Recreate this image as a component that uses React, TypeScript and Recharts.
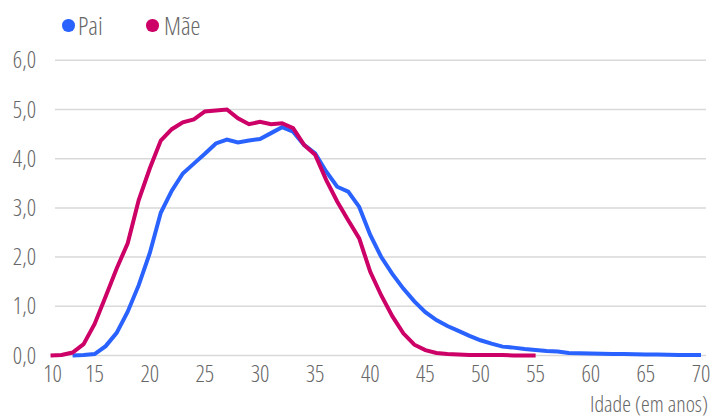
import { LineChart, Line, XAxis, YAxis, CartesianGrid } from 'recharts';

// idade (anos) e % de nascimentos
const maeAges = [
  11, 12, 13, 14, 15, 16, 17, 18, 19, 20, 21, 22, 23, 24, 25, 26, 27, 28, 29, 30, 31, 32, 33,
  34, 35, 36, 37, 38, 39, 40, 41, 42, 43, 44, 45, 46, 47, 48, 49, 50, 51, 52, 53, 54, 55,
];
const maeValues = [
  0.0, 0.01, 0.06, 0.23, 0.64, 1.2, 1.77, 2.28, 3.16, 3.8, 4.37, 4.6, 4.74, 4.8, 4.96, 4.98,
  5.0, 4.82, 4.7, 4.75, 4.7, 4.72, 4.62, 4.28, 4.08, 3.57, 3.13, 2.75, 2.38, 1.7, 1.22, 0.8,
  0.45, 0.22, 0.11, 0.05, 0.03, 0.02, 0.01, 0.01, 0.01, 0.01, 0.0, 0.0, 0.0,
];

const paiAges = [
  13, 14, 15, 16, 17, 18, 19, 20, 21, 22, 23, 24, 25, 26, 27, 28, 29, 30, 31, 32, 33, 34, 35,
  36, 37, 38, 39, 40, 41, 42, 43, 44, 45, 46, 47, 48, 49, 50, 51, 52, 53, 54, 55, 56, 57, 58,
  59, 60, 61, 62, 63, 64, 65, 66, 67, 68, 69, 70,
];
const paiValues = [
  0.0, 0.01, 0.03, 0.19, 0.46, 0.89, 1.43, 2.08, 2.9, 3.35, 3.7, 3.9, 4.1, 4.31, 4.39, 4.33,
  4.37, 4.4, 4.52, 4.64, 4.55, 4.28, 4.11, 3.74, 3.43, 3.33, 3.02, 2.45, 2.0, 1.66, 1.36, 1.1,
  0.88, 0.72, 0.6, 0.5, 0.4, 0.31, 0.24, 0.18, 0.16, 0.13, 0.11, 0.09, 0.08, 0.05, 0.045, 0.04,
  0.035, 0.03, 0.03, 0.025, 0.02, 0.02, 0.015, 0.01, 0.01, 0.01,
];

const xTicks = [10, 15, 20, 25, 30, 35, 40, 45, 50, 55, 60, 65, 70];
const yTicks = [0, 1, 2, 3, 4, 5, 6];

const maeData = maeAges.map((age, i) => ({ age, value: maeValues[i] }));
const paiData = paiAges.map((age, i) => ({ age, value: paiValues[i] }));

const BLUE = '#2962ff';
const MAGENTA = '#cc0066';
const TEXT = '#666666';

const fmt = (v: number) => v.toFixed(1).replace('.', ',');

// the first label sits clear of the y labels, as in the original
const XTick = (props: any) => {
  const { x, y, payload } = props;
  const shift = payload.value === xTicks[0] ? 13 : 0;
  return (
    <text x={x + shift} y={y} dy="0.71em" textAnchor="middle" fill={TEXT}>
      {payload.value}
    </text>
  );
};

const App = () => {
  return (
    <div
      style={{
        position: 'absolute',
        left: 0,
        top: 0,
        width: 712,
        height: 419,
        fontFamily: "'Open Sans', sans-serif",
        fontStretch: '75%',
        fontWeight: 300,
        fontSize: 23,
        color: TEXT,
      }}
    >
      <LineChart
        width={712}
        height={419}
        margin={{ top: 60.3, right: 11, left: 0, bottom: 0 }}
      >
        <CartesianGrid vertical={false} stroke="#d9d9d9" strokeWidth={1.5} x={55} width={651} />
        <XAxis
          type="number"
          dataKey="age"
          domain={[10, 70]}
          ticks={xTicks}
          interval={0}
          height={63.5}
          axisLine={false}
          tickLine={false}
          tickSize={0}
          tickMargin={10}
          tick={<XTick />}
          allowDuplicatedCategory={false}
        />
        <YAxis
          domain={[0, 6]}
          ticks={yTicks}
          width={39.5}
          axisLine={false}
          tickLine={false}
          tickSize={0}
          tickMargin={3.5}
          tickFormatter={fmt}
          tick={{ fill: TEXT }}
        />
        <Line
          data={paiData}
          dataKey="value"
          name="Pai"
          type="linear"
          stroke={BLUE}
          strokeWidth={4}
          dot={false}
          isAnimationActive={false}
        />
        <Line
          data={maeData}
          dataKey="value"
          name="Mãe"
          type="linear"
          stroke={MAGENTA}
          strokeWidth={4}
          dot={false}
          isAnimationActive={false}
        />
      </LineChart>

      {/* legenda */}
      <div style={{ position: 'absolute', left: 62, top: 19, width: 12.5, height: 12.5, borderRadius: '50%', background: BLUE }} />
      <div style={{ position: 'absolute', left: 78, top: 12, fontSize: 25, lineHeight: '26px' }}>Pai</div>
      <div style={{ position: 'absolute', left: 146, top: 19, width: 12.5, height: 12.5, borderRadius: '50%', background: MAGENTA }} />
      <div style={{ position: 'absolute', left: 164, top: 12, fontSize: 25, lineHeight: '26px' }}>Mãe</div>

      <div style={{ position: 'absolute', right: 4, top: 393, fontSize: 22, lineHeight: '20px', whiteSpace: 'nowrap' }}>
        Idade (em anos)
      </div>
    </div>
  );
};

export default App;
